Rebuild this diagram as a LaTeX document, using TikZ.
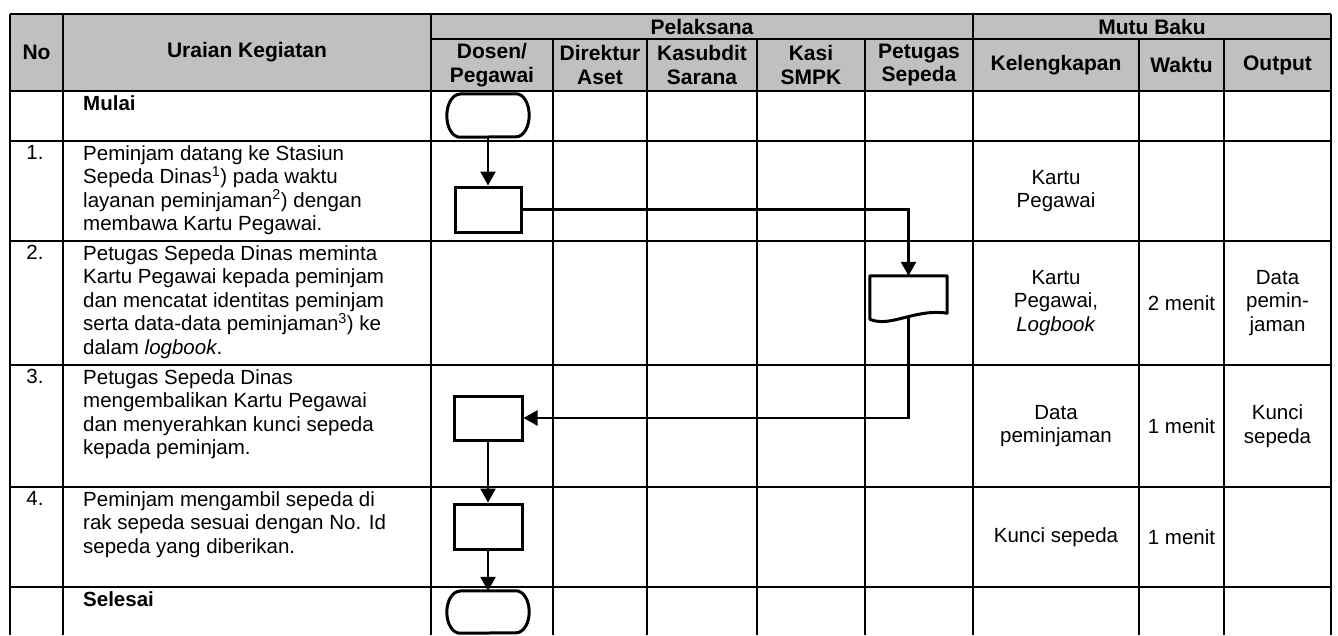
\documentclass[tikz,border=0pt]{standalone}
\usepackage{fontspec}
\setmainfont{Liberation Sans}
\usetikzlibrary{arrows.meta,calc}
\definecolor{hdrgray}{RGB}{192,192,192}
\begin{document}
\begin{tikzpicture}[x=1pt,y=-1pt,
  every node/.style={font=\fontsize{20.5}{23.5}\selectfont},
  grid/.style={line width=2pt},
  proc/.style={draw, line width=3pt, minimum width=66pt, minimum height=45pt, inner sep=0pt},
  holder/.style={draw=none, inner sep=0pt, minimum width=82pt, minimum height=43pt},
  docholder/.style={draw=none, inner sep=0pt, minimum width=77pt, minimum height=42pt},
  outl/.style={line width=3pt, line join=round},
  arr/.style={line width=2.5pt, -{Triangle[length=14pt,width=15pt]}},
  cell/.style={align=center, inner sep=0pt},
  desc/.style={align=left, anchor=north west, inner sep=0pt},
  hdr/.style={align=center, inner sep=0pt, font=\fontsize{21}{23.5}\selectfont\bfseries}
]
\useasboundingbox (0,0) rectangle (1338,635);
% header background
\fill[hdrgray] (10,14) rectangle (1331,91);
% grid
\draw[grid] (10,14) -- (1331,14);
\draw[grid] (431,39) -- (1331,39);
\foreach \yy in {91,141,241,365,487,587} \draw[grid] (10,\yy) -- (1331,\yy);
\foreach \xx in {10,63,431,973,1331} \draw[grid] (\xx,14) -- (\xx,635);
\foreach \xx in {553,647,757,865,1139,1224} \draw[grid] (\xx,39) -- (\xx,635);

% header texts
\node[hdr] (hno) at (36.5,52.5) {No};
\node[hdr] (hur) at (247,52.5) {Uraian Kegiatan};
\node[hdr] (hpel) at (702,26.5) {Pelaksana};
\node[hdr] (hmb) at (1152,26.5) {Mutu Baku};
\node[hdr] (hdos) at (492,65) {Dosen/\\Pegawai};
\node[hdr] (hdir) at (600,65) {Direktur\\Aset};
\node[hdr] (hkas) at (702,65) {Kasubdit\\Sarana};
\node[hdr] (hksi) at (811,65) {Kasi\\SMPK};
\node[hdr] (hpet) at (919,65) {Petugas\\Sepeda};
\node[hdr] (hkel) at (1056,65) {Kelengkapan};
\node[hdr] (hwak) at (1181.5,65) {Waktu};
\node[hdr] (hout) at (1277.5,65) {Output};

% numbers
\node[cell, anchor=north] (n1) at (35,145) {1.};
\node[cell, anchor=north] (n2) at (35,245) {2.};
\node[cell, anchor=north] (n3) at (35,369) {3.};
\node[cell, anchor=north] (n4) at (35,491) {4.};

% descriptions
\node[desc, font=\fontsize{20.5}{23.5}\selectfont\bfseries] (tm) at (83,95) {Mulai};
\node[desc] (t1) at (83,145) {Peminjam datang ke Stasiun\\Sepeda Dinas\textsuperscript{1}) pada waktu\\layanan peminjaman\textsuperscript{2}) dengan\\membawa Kartu Pegawai.};
\node[desc] (t2) at (83,245) {Petugas Sepeda Dinas meminta\\Kartu Pegawai kepada peminjam\\dan mencatat identitas peminjam\\serta data-data peminjaman\textsuperscript{3}) ke\\dalam \textit{logbook}.};
\node[desc] (t3) at (83,369) {Petugas Sepeda Dinas\\mengembalikan Kartu Pegawai\\dan menyerahkan kunci sepeda\\kepada peminjam.};
\node[desc] (t4) at (83,491) {Peminjam mengambil sepeda di\\rak sepeda sesuai dengan No. Id\\sepeda yang diberikan.};
\node[desc, font=\fontsize{20.5}{23.5}\selectfont\bfseries] (ts) at (83,591) {Selesai};

% mutu baku cells
\node[cell] (k1) at (1056,191) {Kartu\\Pegawai};
\node[cell] (k2) at (1056,303) {Kartu\\Pegawai,\\\textit{Logbook}};
\node[cell] (w2) at (1181.5,303) {2 menit};
\node[cell] (o2) at (1277.5,303) {Data\\pemin-\\jaman};
\node[cell] (k3) at (1056,426) {Data\\peminjaman};
\node[cell] (w3) at (1181.5,426) {1 menit};
\node[cell] (o3) at (1277.5,426) {Kunci\\sepeda};
\node[cell] (k4) at (1056,537) {Kunci sepeda};
\node[cell] (w4) at (1181.5,537) {1 menit};

% flow shapes
\node[holder] (st) at (488,115.5) {};
\draw[outl] ([xshift=13pt]st.north west) -- ([xshift=-13pt]st.north east)
  arc[start angle=90,end angle=-90,x radius=13pt,y radius=21.5pt]
  -- ([xshift=13pt]st.south west)
  arc[start angle=270,end angle=90,x radius=13pt,y radius=21.5pt] -- cycle;
\node[proc] (b1) at (488,209.5) {};
\node[docholder] (d) at (908.5,297) {};
\draw[outl] (d.north west) -- (d.north east) -- ($(d.south east)+(0,-5)$)
  .. controls ($(d.south east)+(-32,-10)$) and ($(d.south west)+(20,10)$) .. ($(d.south west)+(0,1)$) -- cycle;
\node[proc, minimum width=68pt, minimum height=44pt] (b3) at (488,418) {};
\node[proc, minimum width=68pt] (b4) at (488,526.5) {};
\node[holder, minimum height=42pt] (en) at (488,612) {};
\draw[outl] ([xshift=13pt]en.north west) -- ([xshift=-13pt]en.north east)
  arc[start angle=90,end angle=-90,x radius=13pt,y radius=21pt]
  -- ([xshift=13pt]en.south west)
  arc[start angle=270,end angle=90,x radius=13pt,y radius=21pt] -- cycle;

% connectors
\draw[arr] (st.south) -- (b1.north);
\draw[arr] (b1.east) -| (d.north);
\draw[arr] (d.south) |- (b3.east);
\draw[arr] (b3.south) -- (b4.north);
\draw[arr] (b4.south) -- (en.north);
\end{tikzpicture}
\end{document}
